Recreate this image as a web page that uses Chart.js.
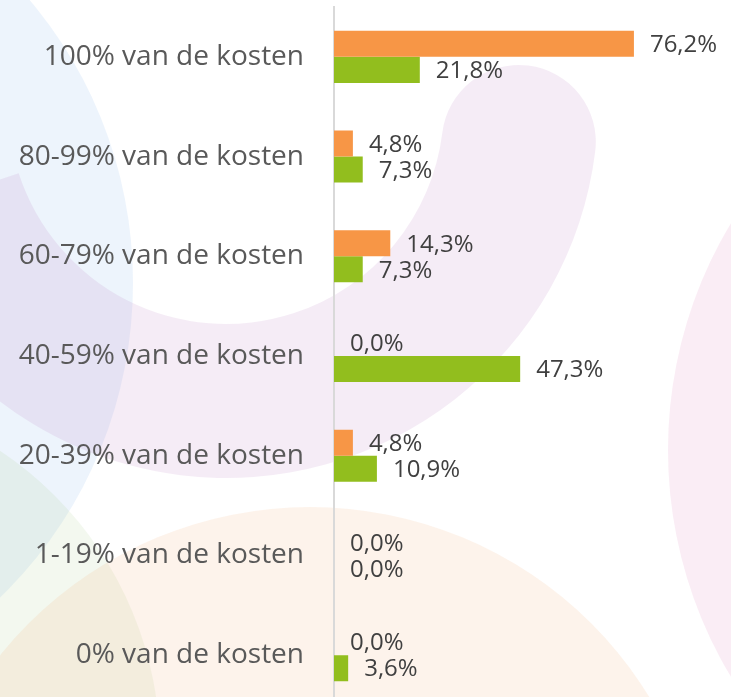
<!DOCTYPE html>
<html>
<head>
<meta charset="utf-8">
<script src="https://cdn.jsdelivr.net/npm/chart.js@4/dist/chart.umd.min.js"></script>
<style>
html,body{margin:0;padding:0;background:#fff;overflow:hidden;}
canvas{display:block;}
</style>
</head>
<body>
<canvas id="c" width="731" height="705"></canvas>
<script>
// ---- data ----
const categories = [
  "100% van de kosten",
  "80-99% van de kosten",
  "60-79% van de kosten",
  "40-59% van de kosten",
  "20-39% van de kosten",
  "1-19% van de kosten",
  "0% van de kosten"
];
const seriesOrange = [76.2, 4.8, 14.3, 0.0, 4.8, 0.0, 0.0];
const seriesGreen  = [21.8, 7.3, 7.3, 47.3, 10.9, 0.0, 3.6];
const axisMin = 0;
const axisMax = 100;

// ---- decorative background ----
const backgroundShapes = {
  id: 'bgShapes',
  beforeDraw(chart) {
    const ctx = chart.ctx;
    ctx.save();
    ctx.fillStyle = '#ffffff';
    ctx.fillRect(0, 0, chart.width, chart.height);
    // blue circle top-left
    ctx.fillStyle = 'rgba(160,195,240,0.19)';
    ctx.beginPath();
    ctx.ellipse(-290, 283, 423, 432, 0, 0, Math.PI * 2);
    ctx.fill();
    // green circle bottom-left
    ctx.fillStyle = 'rgba(160,200,130,0.13)';
    ctx.beginPath();
    ctx.arc(-200, 750, 360, 0, Math.PI * 2);
    ctx.fill();
    // orange circle bottom
    ctx.fillStyle = 'rgba(245,185,135,0.17)';
    ctx.beginPath();
    ctx.arc(310, 905, 398, 0, Math.PI * 2);
    ctx.fill();
    // pink circle right
    ctx.fillStyle = 'rgba(225,150,195,0.17)';
    ctx.beginPath();
    ctx.arc(1108, 450, 440, 0, Math.PI * 2);
    ctx.fill();
    // purple swoosh
    const cx = 226, cy = 106, r1 = 218, r2 = 372;
    const a0 = 7.0 * Math.PI / 180, a1 = 162 * Math.PI / 180;
    const rm = (r1 + r2) / 2, capR = (r2 - r1) / 2;
    ctx.fillStyle = 'rgba(185,130,195,0.15)';
    ctx.beginPath();
    ctx.arc(cx, cy, r2, a0, a1, false);
    ctx.arc(cx, cy, r1, a1, a0, true);
    ctx.arc(cx + rm * Math.cos(a0), cy + rm * Math.sin(a0), capR, a0 + Math.PI, a0 + 2 * Math.PI, false);
    ctx.closePath();
    ctx.fill();
    ctx.restore();
  }
};

// ---- value labels ----
const valueLabels = {
  id: 'valueLabels',
  afterDatasetsDraw(chart) {
    const ctx = chart.ctx;
    ctx.save();
    ctx.font = '24px "Open Sans"';
    ctx.fillStyle = '#404040';
    ctx.textAlign = 'left';
    ctx.textBaseline = 'middle';
    chart.data.datasets.forEach((ds, di) => {
      const meta = chart.getDatasetMeta(di);
      meta.data.forEach((el, i) => {
        const v = ds.data[i];
        const txt = v.toFixed(1).replace('.', ',') + '%';
        ctx.fillText(txt, el.x + 16, el.y + 1.5);
      });
    });
    ctx.restore();
  }
};

new Chart(document.getElementById('c'), {
  type: 'bar',
  data: {
    labels: categories,
    datasets: [
      { label: 'A', data: seriesOrange, backgroundColor: '#F79646', borderWidth: 0,
        categoryPercentage: 0.522, barPercentage: 1.0 },
      { label: 'B', data: seriesGreen, backgroundColor: '#92BE1E', borderWidth: 0,
        categoryPercentage: 0.522, barPercentage: 1.0 }
    ]
  },
  options: {
    indexAxis: 'y',
    responsive: false,
    animation: false,
    devicePixelRatio: 1,
    layout: { padding: { top: 7, right: 3.4, bottom: 0, left: 0 } },
    plugins: { legend: { display: false }, tooltip: { enabled: false } },
    scales: {
      x: { display: false, min: axisMin, max: axisMax },
      y: {
        grid: { display: false, drawTicks: false },
        border: { display: true, color: '#D9D9D9', width: 2 },
        ticks: { color: '#595959', padding: 30, font: { family: '"Open Sans"', size: 28 } },
        afterFit(scale) { scale.width = 334; scale.paddingTop = 0; scale.paddingBottom = 0; }
      }
    }
  },
  plugins: [backgroundShapes, valueLabels]
});
</script>
</body>
</html>
